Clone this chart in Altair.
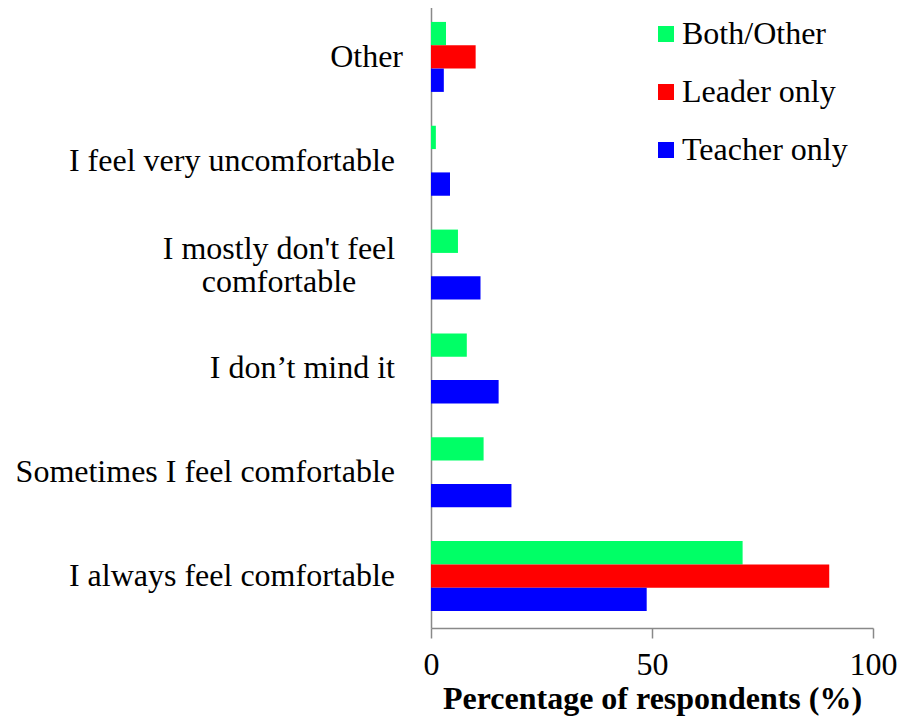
import altair as alt
import pandas as pd

FONT = "Liberation Serif"

categories = [
    "Other",
    "I feel very uncomfortable",
    "I mostly don't feel comfortable",
    "I don\u2019t mind it",
    "Sometimes I feel comfortable",
    "I always feel comfortable",
]
display_labels = [
    "Other",
    "I feel very uncomfortable",
    "I mostly don't feel\ncomfortable",
    "I don\u2019t mind it",
    "Sometimes I feel comfortable",
    "I always feel comfortable",
]
series = ["Both/Other", "Leader only", "Teacher only"]
both_other = [3.4, 1.1, 6.1, 8.1, 11.9, 70.5]
leader_only = [10.1, 0, 0, 0, 0, 90.1]
teacher_only = [2.9, 4.3, 11.2, 15.3, 18.2, 48.8]
colors = ["#00FF66", "#FF0000", "#0000FF"]
x_ticks = [0, 50, 100]

rows = []
for i, c in enumerate(categories):
    for s, vals in zip(series, [both_other, leader_only, teacher_only]):
        rows.append({"category": c, "series": s, "value": vals[i]})
bars_df = pd.DataFrame(rows)
labels_df = pd.DataFrame({"category": categories, "label": display_labels})

AXIS_GRAY = "#898989"
FS = 32

y_enc = alt.Y(
    "category:N",
    sort=categories,
    scale=alt.Scale(paddingInner=0.326, paddingOuter=0.163),
    axis=alt.Axis(labels=False, ticks=False, title=None, domainColor=AXIS_GRAY,
                  domainWidth=1.5, grid=False),
)

bars = alt.Chart(bars_df).mark_bar().encode(
    x=alt.X(
        "value:Q",
        scale=alt.Scale(domain=[0, 100], nice=False),
        axis=alt.Axis(
            values=x_ticks,
            title="Percentage of respondents (%)",
            grid=False,
            domainColor=AXIS_GRAY,
            domainWidth=1.5,
            tickColor=AXIS_GRAY,
            tickWidth=1.5,
            tickSize=10,
            labelFont=FONT,
            labelFontSize=FS,
            labelColor="black",
            labelPadding=11,
            labelFlush=False,
            titleFont=FONT,
            titleFontSize=FS,
            titleFontWeight="bold",
            titleColor="black",
            titlePadding=3,
        ),
    ),
    y=y_enc,
    yOffset=alt.YOffset("series:N", sort=series,
                        scale=alt.Scale(paddingInner=0, paddingOuter=0)),
    color=alt.Color(
        "series:N",
        sort=series,
        scale=alt.Scale(domain=series, range=colors),
        legend=alt.Legend(
            title=None,
            orient="none",
            legendX=219,
            legendY=13,
            symbolType="square",
            symbolSize=256,
            symbolStrokeWidth=0,
            symbolOpacity=1,
            labelFont=FONT,
            labelFontSize=FS,
            labelColor="black",
            labelOffset=0,
            labelLimit=400,
            rowPadding=26,
            padding=0,
        ),
    ),
)

txt_style = dict(baseline="middle", font=FONT, fontSize=FS, color="black",
                 lineBreak="\n", lineHeight=33)

right_labels = [categories[1], categories[3], categories[4], categories[5]]

t_right = alt.Chart(labels_df).transform_filter(
    alt.FieldOneOfPredicate(field="category", oneOf=right_labels)
).mark_text(align="right", **txt_style).encode(
    y=alt.Y("category:N", sort=categories),
    x=alt.value(-36),
    text="label:N",
)

t_other = alt.Chart(labels_df).transform_filter(
    alt.FieldEqualPredicate(field="category", equal=categories[0])
).mark_text(align="right", **txt_style).encode(
    y=alt.Y("category:N", sort=categories),
    x=alt.value(-28),
    text="label:N",
)

t_center = alt.Chart(labels_df).transform_filter(
    alt.FieldEqualPredicate(field="category", equal=categories[2])
).mark_text(align="center", dy=-16, **txt_style).encode(
    y=alt.Y("category:N", sort=categories),
    x=alt.value(-152),
    text="label:N",
)

chart = alt.layer(bars, t_right, t_other, t_center).properties(
    width=442,
    height=623,
    autosize=alt.AutoSizeParams(type="none"),
    padding={"left": 423, "top": -3, "right": 25, "bottom": 90},
).configure_view(stroke=None)

chart.save("out.html", embed_options={"renderer": "svg", "actions": False})
